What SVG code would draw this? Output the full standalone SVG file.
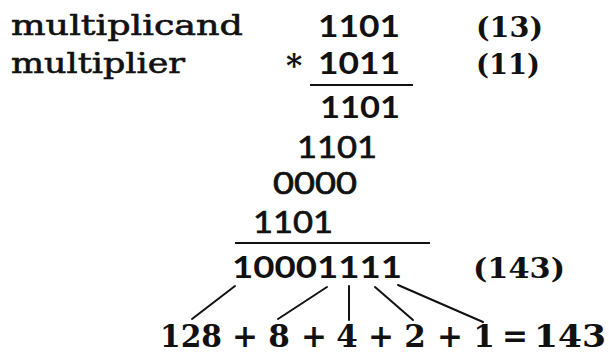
<svg xmlns="http://www.w3.org/2000/svg" width="609" height="354" viewBox="0 0 609 354">
  <style>
    .label { font-family: "DejaVu Serif", "Liberation Serif", serif; font-size: 28px; fill: #111; stroke: #111; stroke-width: 0.6; }
    .dec { font-family: "DejaVu Serif", "Liberation Serif", serif; font-weight: bold; font-size: 28px; fill: #111; }
    .sum { font-family: "DejaVu Serif", "Liberation Serif", serif; font-weight: bold; font-size: 31px; fill: #111; text-anchor: middle; }
    .num { font-family: "DejaVu Serif", "Liberation Serif", serif; font-weight: bold; font-size: 31px; fill: #111; }
    .bits { font-family: Lato, "DejaVu Sans", sans-serif; font-weight: bold; font-size: 31px; fill: #111; }
    .part { font-family: Lato, "DejaVu Sans", sans-serif; font-size: 31px; fill: #111; stroke: #111; stroke-width: 0.7; }
    .rule { stroke: #111; stroke-width: 2; fill: none; }
    .link { stroke: #111; stroke-width: 2; fill: none; stroke-linecap: round; }
  </style>
  <rect width="609" height="354" fill="#fff"/>

  <!-- operand names -->
  <g id="names">
    <text class="label" x="11" y="35" textLength="232" lengthAdjust="spacingAndGlyphs">multiplicand</text>
    <text class="label" x="11" y="73" textLength="174" lengthAdjust="spacingAndGlyphs">multiplier</text>
  </g>

  <!-- operands -->
  <g id="multiplicand">
    <text class="bits" x="318" y="37" textLength="82" lengthAdjust="spacingAndGlyphs">1101</text>
    <text class="dec" x="476" y="37" textLength="67" lengthAdjust="spacingAndGlyphs">(13)</text>
  </g>
  <g id="multiplier">
    <text class="sum" x="294" y="76" font-size="26">*</text>
    <text class="bits" x="318" y="74" textLength="82" lengthAdjust="spacingAndGlyphs">1011</text>
    <text class="dec" x="476" y="74" textLength="64" lengthAdjust="spacingAndGlyphs">(11)</text>
  </g>
  <line class="rule" x1="310" y1="85" x2="413" y2="85"/>

  <!-- shifted partial products -->
  <g id="partial-0">
    <text class="bits" x="320" y="118" textLength="80" lengthAdjust="spacingAndGlyphs">1101</text>
  </g>
  <g id="partial-1">
    <text class="part" x="297" y="158" textLength="80" lengthAdjust="spacingAndGlyphs">1101</text>
  </g>
  <g id="partial-2">
    <text class="part" x="273" y="194" textLength="84" lengthAdjust="spacingAndGlyphs">0000</text>
  </g>
  <g id="partial-3">
    <text class="part" x="253" y="233" textLength="80" lengthAdjust="spacingAndGlyphs">1101</text>
  </g>
  <line class="rule" x1="235" y1="243" x2="430" y2="243"/>

  <!-- product -->
  <g id="product">
    <text class="bits" x="232" y="278" textLength="170" lengthAdjust="spacingAndGlyphs">10001111</text>
    <text class="dec" x="473" y="278" textLength="92" lengthAdjust="spacingAndGlyphs">(143)</text>
  </g>

  <!-- bit weights -->
  <g id="connectors">
    <line class="link" x1="235" y1="286" x2="192" y2="319"/>
    <line class="link" x1="327" y1="287" x2="278" y2="319"/>
    <line class="link" x1="349" y1="286" x2="349" y2="320"/>
    <line class="link" x1="375" y1="287" x2="413" y2="320"/>
    <line class="link" x1="398" y1="285" x2="483" y2="322"/>
  </g>

  <g id="weights">
    <text class="num" x="160" y="347" textLength="62" lengthAdjust="spacingAndGlyphs">128</text>
    <text class="sum" y="347"><tspan x="245">+</tspan><tspan x="279">8</tspan><tspan x="314">+</tspan><tspan x="347">4</tspan><tspan x="381">+</tspan><tspan x="415">2</tspan><tspan x="450">+</tspan><tspan x="484">1</tspan><tspan x="515">=</tspan></text>
    <text class="num" x="534" y="347" textLength="72" lengthAdjust="spacingAndGlyphs">143</text>
  </g>
</svg>
